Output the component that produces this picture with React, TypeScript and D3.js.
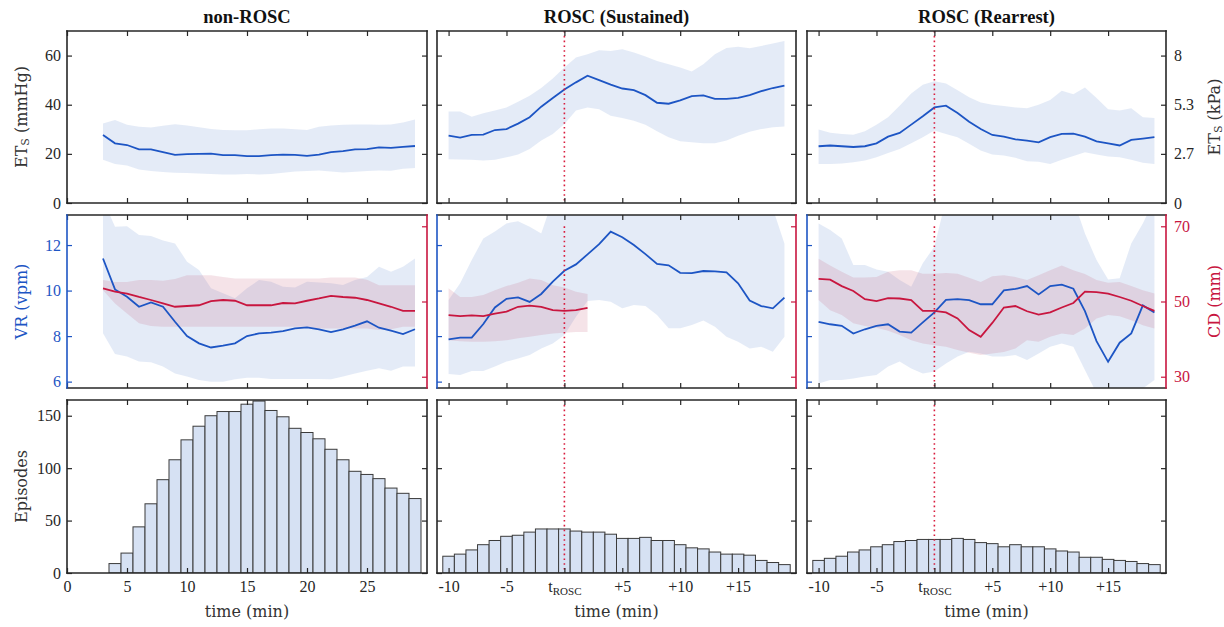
import React, { useEffect, useRef } from 'react';
import * as d3 from 'd3';

// time grids (minutes)
const timeNon = [3, 4, 5, 6, 7, 8, 9, 10, 11, 12, 13, 14, 15, 16, 17, 18, 19, 20, 21, 22, 23, 24, 25, 26, 27, 28, 29];
const timeRosc = [-10, -9, -8, -7, -6, -5, -4, -3, -2, -1, 0, 1, 2, 3, 4, 5, 6, 7, 8, 9, 10, 11, 12, 13, 14, 15, 16, 17, 18, 19];
const timeSusCd = [-10, -9, -8, -7, -6, -5, -4, -3, -2, -1, 0, 1, 2];
const histTimeNon = [4, 5, 6, 7, 8, 9, 10, 11, 12, 13, 14, 15, 16, 17, 18, 19, 20, 21, 22, 23, 24, 25, 26, 27, 28, 29];

// ETs (mmHg): median + IQR
const etsNonMean = [27.7, 24.3, 23.6, 21.8, 21.8, 20.7, 19.6, 19.9, 20.0, 20.1, 19.5, 19.5, 19.1, 19.1, 19.5, 19.7, 19.6, 19.2, 19.7, 20.7, 21.1, 21.8, 21.9, 22.6, 22.4, 22.8, 23.2];
const etsNonHi = [32.4, 33.8, 31.8, 31.0, 30.7, 31.4, 32.0, 31.5, 30.8, 30.1, 29.7, 29.6, 29.6, 30.0, 30.3, 30.3, 30.0, 29.7, 31.0, 31.5, 31.8, 31.9, 31.9, 31.8, 31.9, 32.8, 34.0];
const etsNonLo = [17.6, 15.9, 15.3, 13.6, 13.0, 12.6, 12.3, 12.2, 12.0, 11.8, 11.6, 11.6, 11.8, 11.6, 11.8, 12.3, 12.8, 13.0, 13.2, 12.8, 12.4, 12.7, 13.0, 13.2, 13.1, 13.9, 14.2];

const etsSusMean = [27.4, 26.6, 27.7, 27.8, 29.7, 30.1, 32.3, 34.9, 39.2, 42.7, 46.2, 49.1, 51.8, 50.0, 48.2, 46.6, 45.9, 43.9, 40.8, 40.4, 41.8, 43.5, 43.8, 42.4, 42.4, 42.8, 43.9, 45.5, 46.8, 47.8];
const etsSusHi = [37.2, 37.2, 35.1, 36.5, 37.6, 38.9, 41.2, 43.6, 46.8, 50.7, 55.1, 59.2, 60.5, 62.2, 61.9, 62.6, 61.2, 59.6, 57.8, 56.5, 55.1, 53.5, 56.5, 60.5, 63.1, 63.6, 63.0, 63.9, 64.9, 65.9];
const etsSusLo = [17.8, 17.7, 17.6, 17.3, 17.6, 18.6, 19.7, 22.0, 25.4, 28.1, 32.2, 37.6, 38.9, 38.2, 35.5, 34.6, 33.5, 31.8, 29.2, 26.8, 25.1, 24.7, 24.3, 24.3, 25.4, 27.4, 29.0, 30.1, 30.8, 31.1];

const etsRearMean = [23.1, 23.4, 23.1, 22.8, 23.1, 24.3, 27.0, 28.5, 31.9, 35.3, 38.9, 39.6, 36.6, 33.1, 30.1, 27.7, 27.0, 25.9, 25.4, 24.7, 26.8, 28.1, 28.2, 27.0, 25.1, 24.3, 23.4, 25.7, 26.2, 26.8];
const etsRearHi = [29.9, 28.6, 28.1, 27.8, 29.2, 31.8, 34.9, 39.6, 44.6, 48.1, 49.5, 48.6, 45.9, 43.0, 40.9, 40.0, 39.5, 38.9, 38.6, 40.0, 41.9, 45.7, 44.3, 47.0, 42.7, 38.2, 37.6, 38.6, 34.9, 34.6];
const etsRearLo = [15.9, 15.9, 16.1, 16.6, 17.3, 18.6, 20.3, 22.0, 24.3, 26.8, 29.5, 28.1, 26.8, 24.1, 21.4, 19.7, 19.3, 18.4, 17.0, 16.8, 15.9, 17.6, 19.1, 20.7, 19.7, 18.9, 18.6, 17.6, 16.4, 15.9];

// VR (vpm)
const vrNonMean = [11.41, 10.05, 9.73, 9.29, 9.48, 9.29, 8.63, 8.0, 7.68, 7.5, 7.58, 7.68, 8.0, 8.12, 8.15, 8.22, 8.34, 8.38, 8.3, 8.18, 8.3, 8.46, 8.65, 8.37, 8.24, 8.09, 8.3];
const vrNonHi = [14.0, 12.8, 12.83, 12.44, 12.4, 12.2, 12.07, 11.27, 10.9, 10.1, 9.88, 9.66, 10.1, 10.46, 10.39, 10.17, 10.14, 10.39, 10.36, 10.32, 10.24, 10.46, 10.6, 11.05, 10.83, 11.05, 11.41];
const vrNonLo = [8.12, 7.21, 7.1, 6.88, 6.85, 6.66, 6.36, 6.22, 6.07, 6.0, 6.0, 6.1, 6.17, 6.17, 6.12, 6.12, 6.12, 6.12, 6.12, 6.1, 6.22, 6.36, 6.48, 6.59, 6.48, 6.66, 6.66];

const vrSusMean = [7.86, 7.93, 7.93, 8.53, 9.26, 9.64, 9.7, 9.5, 9.85, 10.39, 10.87, 11.15, 11.59, 12.04, 12.59, 12.34, 12.0, 11.6, 11.17, 11.11, 10.78, 10.77, 10.86, 10.84, 10.8, 10.32, 9.56, 9.32, 9.22, 9.69];
const vrSusHi = [9.59, 10.32, 11.34, 12.29, 12.59, 12.95, 13.05, 12.8, 12.51, 14, 14, 14, 14, 14, 14, 14, 14, 14, 14, 14, 14, 14, 14, 14, 14, 14, 14, 14, 13.6, 12.07];
const vrSusLo = [6.33, 6.29, 6.47, 6.47, 6.66, 6.88, 7.02, 7.17, 7.46, 7.68, 8.05, 8.85, 9.54, 9.59, 9.51, 9.22, 9.37, 9.32, 8.93, 8.34, 8.34, 8.49, 8.68, 8.41, 7.97, 7.75, 7.46, 7.53, 7.31, 7.97];

const vrRearMean = [8.63, 8.52, 8.45, 8.11, 8.3, 8.45, 8.52, 8.2, 8.15, 8.6, 9.04, 9.59, 9.62, 9.58, 9.4, 9.4, 10.01, 10.07, 10.2, 9.83, 10.2, 10.26, 10.08, 9.1, 7.78, 6.87, 7.71, 8.12, 9.35, 9.04];
const vrRearHi = [12.95, 12.66, 12.29, 11.12, 11.12, 10.93, 10.83, 10.46, 10.17, 11.2, 11.93, 14, 14, 14, 14, 14, 14, 14, 13.6, 13.3, 14, 14, 14, 12.51, 11.34, 10.49, 10.54, 12.07, 12.95, 14];
const vrRearLo = [5.92, 6.07, 6.07, 6.14, 6.22, 6.29, 6.66, 6.88, 6.58, 6.36, 6.44, 6.8, 7.1, 7.31, 7.24, 7.1, 7.1, 7.17, 6.95, 7.24, 7.53, 7.68, 7.53, 6.51, 5.5, 5.5, 5.5, 5.5, 5.7, 6.07];

// CD (mm)
const cdNonMean = [53.5, 52.6, 52.1, 51.2, 50.4, 49.5, 48.6, 48.8, 49.0, 50.1, 50.4, 50.2, 49.0, 49.0, 49.0, 49.6, 49.5, 50.2, 50.8, 51.5, 51.2, 51.0, 50.4, 49.5, 48.6, 47.5, 47.5];
const cdNonHi = [55.7, 55.2, 55.2, 55.7, 55.7, 55.5, 56.0, 57.0, 57.0, 57.0, 56.5, 56.1, 56.1, 56.1, 56.1, 56.1, 56.1, 56.1, 56.1, 56.4, 56.4, 56.4, 55.8, 54.3, 54.3, 54.3, 54.3];
const cdNonLo = [53.0, 49.5, 46.8, 44.2, 43.5, 43.3, 43.3, 43.3, 43.3, 43.3, 43.3, 43.3, 43.3, 43.3, 43.3, 43.3, 43.3, 43.3, 42.8, 42.8, 42.8, 42.8, 42.8, 42.4, 42.6, 43.3, 43.3];

const cdSusMean = [46.4, 46.1, 46.3, 46.1, 46.8, 47.3, 48.6, 48.9, 48.6, 47.7, 47.5, 47.7, 48.3];
const cdSusHi = [53.5, 51.2, 51.2, 51.7, 53.0, 54.1, 55.0, 56.1, 55.7, 54.3, 53.7, 52.6, 52.0];
const cdSusLo = [39.7, 39.4, 39.3, 39.3, 39.4, 39.7, 40.2, 40.6, 41.1, 41.5, 41.7, 41.9, 41.9];

const cdRearMean = [56.0, 55.8, 54.1, 52.8, 50.6, 50.1, 50.9, 50.8, 50.4, 47.5, 47.5, 47.1, 45.5, 42.4, 40.6, 44.3, 48.4, 48.8, 47.4, 46.5, 47.1, 48.4, 49.6, 52.6, 52.5, 52.1, 51.2, 50.2, 48.8, 47.5];
const cdRearHi = [61.4, 59.6, 57.9, 56.4, 56.4, 56.5, 57.9, 58.3, 58.3, 57.4, 57.4, 57.6, 57.4, 56.3, 55.2, 56.7, 57.0, 56.5, 55.7, 57.0, 58.3, 59.6, 58.3, 57.3, 55.7, 55.0, 55.2, 54.1, 53.0, 52.1];
const cdRearLo = [50.4, 47.7, 46.4, 44.2, 43.5, 43.0, 42.2, 41.1, 39.7, 38.8, 38.4, 38.0, 37.1, 36.4, 35.8, 36.2, 36.6, 37.5, 39.7, 39.3, 40.6, 41.5, 41.1, 42.8, 45.5, 46.4, 46.1, 45.0, 43.7, 42.8];

// episodes per minute
const histNon = [9, 19, 44, 66, 89, 108, 127, 140, 150, 154, 154, 161, 164, 155, 149, 138, 134, 128, 118, 108, 97, 94, 90, 81, 76, 71];
const histSus = [16, 18, 22, 27, 31, 35, 36, 39, 42, 42, 42, 40, 39, 39, 37, 33, 33, 34, 31, 31, 27, 24, 23, 20, 18, 18, 17, 12, 10, 8];
const histRear = [12, 14, 16, 20, 22, 25, 27, 30, 31, 32, 32, 32, 33, 32, 29, 28, 25, 27, 25, 25, 23, 21, 20, 15, 15, 13, 12, 11, 9, 8];

const titles = ['non-ROSC', 'ROSC (Sustained)', 'ROSC (Rearrest)'];
const xTicksNon = [0, 5, 10, 15, 20, 25];
const xTicksRosc = [-10, -5, 0, 5, 10, 15];
const etsTicks = [0, 20, 40, 60];
const kpaLabels = ['0', '2.7', '5.3', '8'];
const vrTicks = [6, 8, 10, 12];
const cdTicks = [30, 50, 70];
const epTicks = [0, 50, 100, 150];

const W = 1224;
const H = 627;
const COLS = [[67, 427], [437, 796], [807, 1166]];
const ROWS = [[31, 203], [215, 388], [400, 573]];
const BLUE = '#1d55c4';
const RED = '#c8163f';
const INK = '#262626';
const TICK_FONT = '"Liberation Serif", serif';
const LABEL_FONT = '"DejaVu Serif", serif';

const App = () => {
  const svgRef = useRef<SVGSVGElement>(null);

  useEffect(() => {
    const svg = d3.select(svgRef.current);
    svg.selectAll('*').remove();

    const panels = [
      {
        time: timeNon, xDomain: [0, 30], xTicks: xTicksNon,
        ets: [etsNonLo, etsNonMean, etsNonHi], vr: [vrNonLo, vrNonMean, vrNonHi],
        cdTime: timeNon, cd: [cdNonLo, cdNonMean, cdNonHi], histTime: histTimeNon, hist: histNon,
      },
      {
        time: timeRosc, xDomain: [-11, 20], xTicks: xTicksRosc,
        ets: [etsSusLo, etsSusMean, etsSusHi], vr: [vrSusLo, vrSusMean, vrSusHi],
        cdTime: timeSusCd, cd: [cdSusLo, cdSusMean, cdSusHi], histTime: timeRosc, hist: histSus,
      },
      {
        time: timeRosc, xDomain: [-11, 20], xTicks: xTicksRosc,
        ets: [etsRearLo, etsRearMean, etsRearHi], vr: [vrRearLo, vrRearMean, vrRearHi],
        cdTime: timeRosc, cd: [cdRearLo, cdRearMean, cdRearHi], histTime: timeRosc, hist: histRear,
      },
    ];

    const yEts = d3.scaleLinear().domain([0, 70]).range([ROWS[0][1], ROWS[0][0]]);
    const yVr = d3.scaleLinear().domain([5.72, 13.32]).range([ROWS[1][1], ROWS[1][0]]);
    const yCd = d3.scaleLinear().domain([27, 73]).range([ROWS[1][1], ROWS[1][0]]);
    const yEp = d3.scaleLinear().domain([0, 165]).range([ROWS[2][1], ROWS[2][0]]);

    const defs = svg.append('defs');

    const styleAxis = (sel: any, color: string, labels: boolean) => {
      sel.select('.domain').remove();
      sel.selectAll('line').attr('stroke', color).attr('stroke-width', 1.2);
      if (!labels) sel.selectAll('text').remove();
      sel.selectAll('text')
        .attr('fill', color)
        .attr('font-family', TICK_FONT)
        .attr('font-size', 16);
    };

    const bandArea = (x: any, y: any, t: number[], lo: number[], hi: number[]) =>
      d3.area<number>()
        .x((_, i) => x(t[i]))
        .y0((_, i) => y(lo[i]))
        .y1((_, i) => y(hi[i]))(lo);

    const meanLine = (x: any, y: any, t: number[], v: number[]) =>
      d3.line<number>().x((_, i) => x(t[i])).y(d => y(d))(v);

    panels.forEach((p, c) => {
      const x = d3.scaleLinear().domain(p.xDomain).range(COLS[c]);
      const [x0, x1] = COLS[c];

      ROWS.forEach(([y0, y1], r) => {
        const id = `clip-${c}-${r}`;
        defs.append('clipPath').attr('id', id)
          .append('rect').attr('x', x0).attr('y', y0).attr('width', x1 - x0).attr('height', y1 - y0);
        const g = svg.append('g');
        const plot = g.append('g').attr('clip-path', `url(#${id})`);

        if (r === 0) {
          plot.append('path').attr('d', bandArea(x, yEts, p.time, p.ets[0], p.ets[2]))
            .attr('fill', '#c9d7f0').attr('fill-opacity', 0.5);
          plot.append('path').attr('d', meanLine(x, yEts, p.time, p.ets[1]))
            .attr('fill', 'none').attr('stroke', BLUE).attr('stroke-width', 1.8);
        } else if (r === 1) {
          plot.append('path').attr('d', bandArea(x, yVr, p.time, p.vr[0], p.vr[2]))
            .attr('fill', '#c9d7f0').attr('fill-opacity', 0.5);
          plot.append('path').attr('d', bandArea(x, yCd, p.cdTime, p.cd[0], p.cd[2]))
            .attr('fill', '#c0506e').attr('fill-opacity', 0.16);
          plot.append('path').attr('d', meanLine(x, yVr, p.time, p.vr[1]))
            .attr('fill', 'none').attr('stroke', BLUE).attr('stroke-width', 1.8);
          plot.append('path').attr('d', meanLine(x, yCd, p.cdTime, p.cd[1]))
            .attr('fill', 'none').attr('stroke', RED).attr('stroke-width', 1.8);
        } else {
          plot.selectAll('rect.bar')
            .data(p.hist)
            .enter()
            .append('rect')
            .attr('class', 'bar')
            .attr('x', (_, i) => x(p.histTime[i] - 0.5))
            .attr('width', (_, i) => x(p.histTime[i] + 0.5) - x(p.histTime[i] - 0.5))
            .attr('y', d => yEp(d))
            .attr('height', d => yEp(0) - yEp(d))
            .attr('fill', '#d6e1f3')
            .attr('stroke', '#3b3b3b')
            .attr('stroke-width', 1);
        }

        // t_ROSC marker
        if (c > 0) {
          g.append('line')
            .attr('x1', x(0)).attr('x2', x(0))
            .attr('y1', r === 1 ? yCd(70) : y0).attr('y2', y1)
            .attr('stroke', '#d81b3c').attr('stroke-width', 1.6)
            .attr('stroke-dasharray', '1.6 3.2');
        }

        // x ticks
        const fmt = (d: number) => (c === 0 ? String(d) : d === 0 ? 't' : d > 0 ? `+${d}` : String(d));
        const bottom = g.append('g').attr('transform', `translate(0,${y1})`)
          .call(d3.axisBottom(x).tickValues(p.xTicks).tickFormat(fmt as any)
            .tickSizeInner(-5).tickSizeOuter(0).tickPadding(8));
        styleAxis(bottom, INK, r === 2);
        if (r === 2 && c > 0) {
          bottom.selectAll('text').filter((d: any) => d === 0).each(function () {
            const t = d3.select(this);
            t.text('');
            t.append('tspan').text('t');
            t.append('tspan').attr('font-size', 11).attr('dy', 3).text('ROSC');
          });
        }
        const top = g.append('g').attr('transform', `translate(0,${y0})`)
          .call(d3.axisTop(x).tickValues(p.xTicks).tickSizeInner(-5).tickSizeOuter(0));
        styleAxis(top, INK, false);

        // y ticks
        const yl = r === 0 ? yEts : r === 1 ? yVr : yEp;
        const yr = r === 0 ? yEts : r === 1 ? yCd : yEp;
        const tl = r === 0 ? etsTicks : r === 1 ? vrTicks : epTicks;
        const tr = r === 0 ? etsTicks : r === 1 ? cdTicks : epTicks;
        const left = g.append('g').attr('transform', `translate(${x0},0)`)
          .call(d3.axisLeft(yl).tickValues(tl).tickFormat((d: any) => String(d))
            .tickSizeInner(-5).tickSizeOuter(0).tickPadding(6));
        styleAxis(left, r === 1 ? BLUE : INK, c === 0);
        const right = g.append('g').attr('transform', `translate(${x1},0)`)
          .call(d3.axisRight(yr).tickValues(tr)
            .tickFormat((d: any, i: number) => (r === 0 ? kpaLabels[i] : String(d)))
            .tickSizeInner(-5).tickSizeOuter(0).tickPadding(8));
        styleAxis(right, r === 1 ? RED : INK, c === 2 && r < 2);

        // frame
        const edge = (ax1: number, ay1: number, ax2: number, ay2: number, col: string) =>
          g.append('line').attr('x1', ax1).attr('y1', ay1).attr('x2', ax2).attr('y2', ay2)
            .attr('stroke', col).attr('stroke-width', 1.6).attr('stroke-linecap', 'square');
        edge(x0, y0, x1, y0, INK);
        edge(x0, y1, x1, y1, INK);
        edge(x0, y0, x0, y1, r === 1 ? BLUE : INK);
        edge(x1, y0, x1, y1, r === 1 ? RED : INK);
      });

      svg.append('text')
        .attr('x', (COLS[c][0] + COLS[c][1]) / 2).attr('y', 23)
        .attr('text-anchor', 'middle')
        .attr('font-family', TICK_FONT).attr('font-weight', 'bold').attr('font-size', 18.5)
        .attr('fill', '#111')
        .text(titles[c]);

      svg.append('text')
        .attr('x', (COLS[c][0] + COLS[c][1]) / 2).attr('y', 617)
        .attr('text-anchor', 'middle')
        .attr('font-family', LABEL_FONT).attr('font-size', 16)
        .attr('fill', '#333')
        .text('time (min)');
    });

    const yLabel = (xPos: number, yPos: number, color: string, build: (t: any) => void) => {
      const t = svg.append('text')
        .attr('transform', `translate(${xPos},${yPos}) rotate(-90)`)
        .attr('text-anchor', 'middle')
        .attr('font-family', LABEL_FONT).attr('font-size', 16)
        .attr('fill', color);
      build(t);
    };
    const ets = (unit: string) => (t: any) => {
      t.append('tspan').text('ET');
      t.append('tspan').attr('font-size', 11).attr('dy', 2).text('S');
      t.append('tspan').attr('dy', -2).text(` (${unit})`);
    };
    const midEts = (ROWS[0][0] + ROWS[0][1]) / 2;
    const midVr = (ROWS[1][0] + ROWS[1][1]) / 2;
    const midEp = (ROWS[2][0] + ROWS[2][1]) / 2;
    yLabel(27, midEts, '#333', ets('mmHg'));
    yLabel(1220, midEts, '#333', ets('kPa'));
    yLabel(27, midVr, BLUE, t => t.text('VR (vpm)'));
    yLabel(1220, midVr, RED, t => t.text('CD (mm)'));
    yLabel(27, midEp, '#333', t => t.text('Episodes'));
  }, []);

  return (
    <svg
      ref={svgRef}
      width={W}
      height={H}
      style={{ position: 'absolute', left: 0, top: 0, background: '#fff' }}
    />
  );
};

export default App;
